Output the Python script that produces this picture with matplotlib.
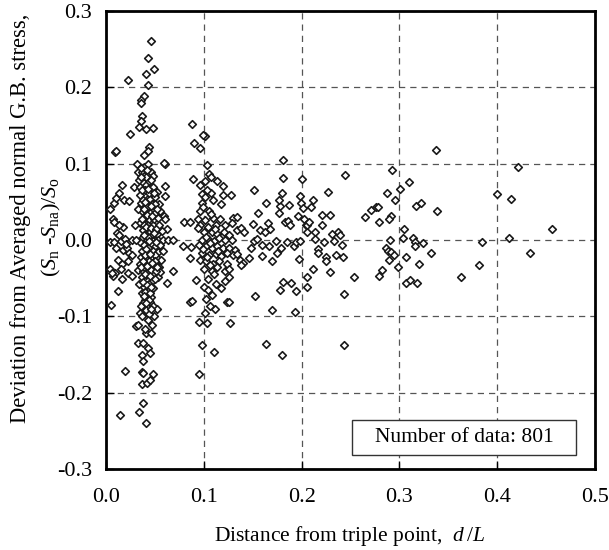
import numpy as np
import matplotlib
matplotlib.use("Agg")
import matplotlib.pyplot as plt
from matplotlib.patches import Rectangle

# 폰트: Times 계열
plt.rcParams['font.family'] = ['Liberation Serif', 'DejaVu Serif']
plt.rcParams['mathtext.fontset'] = 'custom'
plt.rcParams['mathtext.rm'] = 'Liberation Serif'
plt.rcParams['mathtext.it'] = 'Liberation Serif:italic'

# (d/L, deviation), grouped by region
near_edge = [
    (0.004, 0.041), (0.008, 0.048), (0.010, 0.055), (0.013, 0.062), (0.016, 0.072),
    (0.018, 0.053), (0.024, 0.051), (0.0076, 0.027), (0.008, 0.023), (0.017, 0.017),
    (0.011, 0.009), (0.013, 0.007), (0.004, -0.002), (0.008, -0.003), (0.015, -0.001),
    (0.019, 0.001), (0.010, -0.011), (0.017, -0.013), (0.021, -0.011), (0.024, -0.017),
    (0.027, -0.019), (0.012, -0.026), (0.016, -0.032), (0.004, -0.038), (0.0095, -0.043),
    (0.015, -0.038), (0.007, -0.047), (0.016, -0.051), (0.023, -0.043), (0.027, -0.047),
    (0.012, -0.067), (0.005, -0.085), (0.019, -0.172), (0.014, -0.229), (0.0095, 0.115),
    (0.0107, 0.116), (0.0227, 0.209), (0.0247, 0.139), (0.006, -0.043), (0.027, 0.000),
    (0.020, -0.005), (0.013, 0.020), (0.022, -0.027),
]

peak_column = [
    (0.0465, 0.261), (0.0425, 0.239), (0.049, 0.224), (0.0405, 0.218), (0.0425, 0.203),
    (0.0386, 0.189), (0.036, 0.183), (0.0354, 0.180), (0.0366, 0.162), (0.036, 0.156),
    (0.0334, 0.148), (0.0485, 0.147), (0.041, 0.145), (0.0437, 0.122), (0.0425, 0.116),
    (0.0386, 0.111), (0.032, 0.099), (0.033, 0.089), (0.037, 0.089), (0.039, 0.095),
    (0.043, 0.100), (0.046, 0.089), (0.048, 0.084), (0.039, 0.084), (0.029, 0.070),
    (0.035, 0.070), (0.041, 0.072), (0.048, 0.070), (0.052, 0.063), (0.039, 0.059),
    (0.035, 0.059), (0.045, 0.054), (0.050, 0.056), (0.054, 0.047), (0.047, 0.047),
    (0.042, 0.043), (0.037, 0.038), (0.045, 0.036), (0.050, 0.036), (0.055, 0.038),
    (0.059, 0.031), (0.060, 0.027), (0.040, 0.029), (0.035, 0.022), (0.043, 0.020),
    (0.048, 0.020), (0.054, 0.020), (0.062, 0.015), (0.038, 0.013), (0.045, 0.011),
    (0.041, 0.007), (0.047, 0.005), (0.052, 0.008), (0.036, 0.001), (0.042, 0.000),
    (0.048, -0.001), (0.053, 0.000), (0.058, 0.000), (0.063, 0.000), (0.068, 0.000),
    (0.035, -0.003), (0.031, 0.000), (0.039, -0.006), (0.045, -0.008), (0.050, -0.008),
    (0.055, -0.007), (0.037, -0.015), (0.043, -0.016), (0.048, -0.014), (0.053, -0.016),
    (0.058, -0.015), (0.036, -0.022), (0.041, -0.024), (0.047, -0.022), (0.052, -0.024),
    (0.056, -0.026), (0.035, -0.031), (0.040, -0.030), (0.045, -0.033), (0.050, -0.032),
    (0.054, -0.035), (0.033, -0.039), (0.038, -0.040), (0.043, -0.042), (0.048, -0.044),
    (0.053, -0.049), (0.055, -0.042), (0.037, -0.049), (0.042, -0.051), (0.047, -0.054),
    (0.039, -0.061), (0.043, -0.064), (0.037, -0.070), (0.043, -0.072), (0.040, -0.078),
    (0.045, -0.081), (0.038, -0.083), (0.042, -0.088), (0.048, -0.086), (0.052, -0.090),
    (0.049, -0.100), (0.039, -0.095), (0.035, -0.095), (0.060, 0.100), (0.060, 0.071),
    (0.060, 0.058), (0.034, 0.078), (0.044, 0.077), (0.040, 0.066), (0.046, 0.063),
    (0.036, 0.048), (0.044, 0.027), (0.050, 0.047), (0.039, 0.019), (0.046, -0.004),
    (0.041, -0.012), (0.050, -0.019), (0.044, -0.027), (0.039, -0.036), (0.046, -0.039),
    (0.041, -0.046), (0.044, -0.057), (0.040, -0.068), (0.046, -0.075), (0.041, -0.092),
    (0.044, -0.097), (0.033, 0.040), (0.057, 0.012), (0.030, 0.020), (0.036, 0.094),
    (0.041, 0.082), (0.044, 0.061), (0.038, 0.052), (0.049, 0.028), (0.043, 0.004),
    (0.051, -0.003), (0.038, -0.027), (0.051, -0.040), (0.034, -0.058), (0.048, -0.063),
    (0.045, -0.069), (0.036, -0.087), (0.031, -0.113), (0.033, -0.111), (0.047, -0.111),
    (0.041, -0.122), (0.046, -0.122), (0.033, -0.135), (0.038, -0.135), (0.043, -0.142),
    (0.037, -0.151), (0.045, -0.148), (0.038, -0.159), (0.037, -0.173), (0.038, -0.174),
    (0.048, -0.176), (0.037, -0.188), (0.042, -0.187), (0.045, -0.183), (0.034, -0.225),
    (0.038, -0.214), (0.041, -0.240),
    (0.036, 0.083), (0.042, 0.092), (0.046, 0.079), (0.037, 0.065), (0.043, 0.067),
    (0.049, 0.062), (0.040, 0.050), (0.046, 0.044), (0.052, 0.041), (0.039, 0.041),
    (0.042, 0.033), (0.047, 0.032), (0.053, 0.029), (0.037, 0.027), (0.041, 0.017),
    (0.046, 0.016), (0.051, 0.014), (0.039, 0.006), (0.044, -0.001), (0.049, 0.009),
    (0.040, -0.019), (0.045, -0.018), (0.050, -0.027), (0.036, -0.036), (0.042, -0.034),
    (0.047, -0.030), (0.052, -0.036), (0.040, -0.044), (0.045, -0.047), (0.050, -0.051),
    (0.038, -0.055), (0.042, -0.059), (0.046, -0.061), (0.039, -0.074), (0.044, -0.078),
    (0.041, -0.083), (0.046, -0.091), (0.037, -0.099), (0.043, -0.105), (0.040, -0.116),
]

second_column = [
    (0.059, 0.101), (0.068, -0.041), (0.062, -0.056), (0.0795, 0.024), (0.086, 0.024),
    (0.087, -0.009), (0.079, -0.008), (0.086, -0.024), (0.086, -0.081), (0.088, -0.080),
    (0.088, 0.152), (0.090, 0.127), (0.096, 0.120), (0.101, 0.136), (0.099, 0.138),
    (0.089, 0.080), (0.092, -0.053), (0.095, -0.108), (0.098, -0.137), (0.110, -0.147),
    (0.0955, -0.176), (0.103, -0.109), (0.127, -0.109), (0.124, -0.081), (0.126, -0.081),
    (0.111, -0.090), (0.106, -0.086), (0.102, -0.077), (0.100, -0.061), (0.104, -0.051),
    (0.112, -0.058), (0.118, -0.063), (0.122, -0.054), (0.126, -0.049), (0.101, -0.096),
    (0.108, -0.072), (0.103, 0.098), (0.105, 0.086), (0.107, 0.083), (0.101, 0.077),
    (0.096, 0.072), (0.113, 0.077), (0.120, 0.071), (0.107, 0.061), (0.098, 0.060),
    (0.101, 0.056), (0.120, 0.059), (0.128, 0.059), (0.118, 0.047), (0.098, 0.048),
    (0.105, 0.038), (0.096, 0.038), (0.109, 0.029), (0.094, 0.027), (0.101, 0.026),
    (0.117, 0.027), (0.130, 0.029), (0.134, 0.030), (0.129, 0.022), (0.096, 0.020),
    (0.104, 0.017), (0.112, 0.020), (0.122, 0.020), (0.094, 0.016), (0.100, 0.010),
    (0.108, 0.011), (0.114, 0.008), (0.121, 0.011), (0.126, 0.007), (0.098, 0.000),
    (0.104, 0.001), (0.110, -0.001), (0.116, 0.002), (0.122, 0.000), (0.129, 0.000),
    (0.095, -0.007), (0.102, -0.008), (0.108, -0.010), (0.114, -0.008), (0.120, -0.011),
    (0.126, -0.010), (0.132, -0.013), (0.098, -0.017), (0.105, -0.019), (0.112, -0.018),
    (0.118, -0.021), (0.124, -0.017), (0.096, -0.026), (0.102, -0.028), (0.109, -0.031),
    (0.116, -0.028), (0.124, -0.031), (0.130, -0.019), (0.134, -0.018), (0.100, -0.038),
    (0.108, -0.040), (0.114, -0.035), (0.122, -0.041), (0.126, -0.038),
    (0.103, 0.066), (0.099, 0.043), (0.107, 0.034), (0.102, 0.004), (0.106, -0.004),
    (0.111, 0.015), (0.099, -0.012), (0.103, -0.022), (0.106, -0.033), (0.110, -0.045),
    (0.104, -0.065), (0.109, 0.052), (0.115, -0.014),
]

middle_range = [
    (0.134, 0.013), (0.138, 0.016), (0.141, 0.011), (0.137, -0.026), (0.140, -0.030),
    (0.138, -0.033), (0.146, -0.023), (0.148, -0.010), (0.151, -0.001), (0.154, 0.001),
    (0.151, 0.066), (0.152, -0.074), (0.155, 0.036), (0.150, 0.021), (0.157, 0.013),
    (0.159, -0.006), (0.160, -0.021), (0.164, 0.048), (0.166, 0.022), (0.163, 0.011),
    (0.168, 0.015), (0.167, -0.008), (0.170, -0.028), (0.170, -0.092), (0.164, -0.136),
    (0.174, -0.001), (0.175, -0.017), (0.177, 0.036), (0.178, 0.044), (0.177, 0.052),
    (0.180, 0.062), (0.181, 0.081), (0.181, 0.105), (0.183, 0.024), (0.186, 0.025),
    (0.188, 0.020), (0.187, 0.046), (0.185, -0.003), (0.179, -0.011), (0.178, -0.065),
    (0.181, -0.055), (0.189, -0.056), (0.180, -0.150), (0.193, -0.094), (0.194, -0.067),
    (0.192, -0.008), (0.194, -0.003), (0.198, -0.001), (0.197, -0.025), (0.196, 0.031),
    (0.198, 0.057), (0.199, 0.048), (0.201, 0.042), (0.200, 0.080), (0.202, 0.027),
    (0.204, 0.020), (0.206, 0.011), (0.206, 0.020), (0.208, 0.024), (0.206, -0.048),
    (0.206, -0.061), (0.210, 0.043), (0.212, 0.053), (0.212, -0.038), (0.214, 0.011),
    (0.214, 0.001), (0.217, -0.012), (0.217, -0.017), (0.221, 0.020), (0.221, 0.033),
    (0.223, -0.003), (0.225, -0.022), (0.225, -0.028), (0.227, 0.063), (0.229, 0.033),
    (0.229, -0.042), (0.231, 0.008), (0.233, -0.001), (0.235, -0.019), (0.237, 0.011),
    (0.239, 0.007), (0.241, -0.007), (0.242, -0.022), (0.243, -0.071), (0.243, -0.138),
    (0.244, 0.085), (0.254, -0.049),
]

far_range = [
    (0.265, 0.030), (0.271, 0.039), (0.276, 0.043), (0.278, 0.043), (0.279, 0.024),
    (0.279, -0.047), (0.282, -0.039), (0.287, 0.062), (0.291, 0.031), (0.289, 0.027),
    (0.286, -0.010), (0.288, -0.014), (0.289, -0.026), (0.290, 0.000), (0.291, -0.016),
    (0.294, -0.019), (0.292, 0.092), (0.296, 0.053), (0.299, -0.036), (0.301, 0.067),
    (0.305, 0.015), (0.304, 0.003), (0.307, -0.022), (0.307, -0.056), (0.311, -0.053),
    (0.310, 0.076), (0.314, 0.003), (0.316, -0.003), (0.316, -0.008), (0.318, -0.056),
    (0.317, 0.044), (0.322, 0.049), (0.320, -0.032), (0.324, -0.004), (0.332, -0.017),
    (0.337, 0.118), (0.338, 0.038), (0.363, -0.048), (0.381, -0.033), (0.384, -0.003),
    (0.400, 0.060), (0.412, 0.003), (0.414, 0.054), (0.421, 0.095), (0.434, -0.017),
    (0.456, 0.014),
]

all_points = np.array(near_edge + peak_column + second_column + middle_range + far_range)
x_ticks = [0.0, 0.1, 0.2, 0.3, 0.4, 0.5]
y_ticks = [-0.3, -0.2, -0.1, 0.0, 0.1, 0.2, 0.3]
note = "Number of data: 801"

fig = plt.figure(figsize=(6.09, 5.5), dpi=100)
ax = fig.add_axes([106 / 609, 81 / 550, 489 / 609, 458 / 550])

ax.scatter(all_points[:, 0], all_points[:, 1], marker='D', s=15,
           facecolors='white', edgecolors='#1a1a1a', linewidths=1.2, zorder=3)

ax.set_xlim(0, 0.5)
ax.set_ylim(-0.3, 0.3)
ax.set_xticks(x_ticks)
ax.set_yticks(y_ticks)
ax.set_xticklabels([f"{v:.1f}" for v in x_ticks])
ax.set_yticklabels([f"{v:.1f}" for v in y_ticks])
ax.tick_params(direction='in', length=6, width=1, labelsize=16, pad=10)
ax.tick_params(axis='x', pad=14)
ax.grid(True, linestyle=(0, (5, 4)), color='#555555', linewidth=0.9, zorder=1)
ax.set_axisbelow(True)
for sp in ax.spines.values():
    sp.set_linewidth(2)

# 상자 안의 데이터 개수
ax.add_patch(Rectangle((0.252, -0.282), 0.229, 0.046, facecolor='white',
                       edgecolor='#333333', linewidth=1.0, zorder=4))
ax.text(0.3665, -0.259, note, ha='center', va='center', fontsize=15.5, zorder=5)

fig.text(350 / 609, 1 - 536 / 550, r"Distance from triple point,  $d\,/L$",
         ha='center', va='center', fontsize=15.5)
fig.text(21 / 609, 1 - 218 / 550, "Deviation from Averaged normal G.B. stress,",
         ha='center', va='center', rotation=90, fontsize=16.3)
fig.text(51 / 609, 1 - 227 / 550, r"($S_{\rm n}$ -$S_{\rm na}$)/$S_{\rm o}$",
         ha='center', va='center', rotation=90, fontsize=16)

fig.savefig("out.png", dpi=100)
